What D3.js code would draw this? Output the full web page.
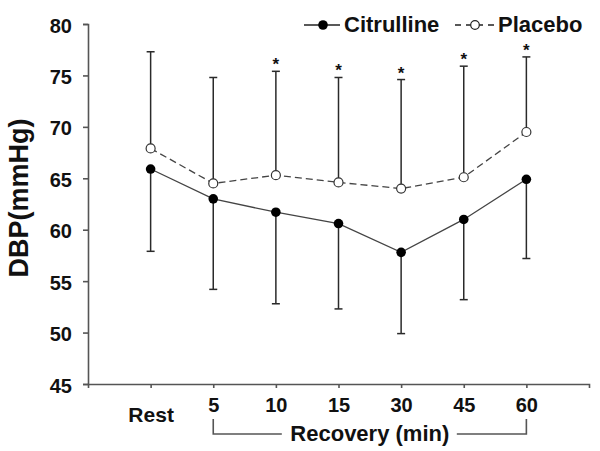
<!DOCTYPE html>
<html>
<head>
<meta charset="utf-8">
<script src="https://cdn.jsdelivr.net/npm/d3@7/dist/d3.min.js"></script>
<style>
  html, body { margin: 0; padding: 0; background: #fff; }
  svg { display: block; }
  text { font-family: "Liberation Sans", Arial, sans-serif; font-weight: bold; fill: #111; }
</style>
</head>
<body>
<svg id="chart" width="600" height="451"></svg>
<script>
const categories = ["Rest", "5", "10", "15", "30", "45", "60"];
const citrulline = [65.9, 63.0, 61.7, 60.6, 57.8, 61.0, 64.9];
const citrullineSD = [8.0, 8.8, 8.9, 8.3, 7.9, 7.8, 7.7];
const placebo = [67.9, 64.5, 65.3, 64.6, 64.0, 65.1, 69.5];
const placeboSD = [9.4, 10.3, 10.1, 10.2, 10.6, 10.8, 7.3];
const significant = [false, false, true, true, true, true, true];
const yTicks = [45, 50, 55, 60, 65, 70, 75, 80];
const seriesNames = ["Citrulline", "Placebo"];
const yLabel = "DBP(mmHg)";
const recoveryLabel = "Recovery (min)";

const svg = d3.select("#chart");
const axisColor = "#555";
const lineColor = "#2a2a2a";

const x = d3.scalePoint().domain(categories).range([88, 589]).padding(1);
const y = d3.scaleLinear().domain([45, 80]).range([384, 24]);

// Y axis
const yAxis = svg.append("g").attr("transform", "translate(88,0)")
  .call(d3.axisLeft(y).tickValues(yTicks).tickSize(5).tickPadding(11));
yAxis.selectAll("path, line").attr("stroke", axisColor).attr("stroke-width", 1.6);
yAxis.selectAll("text").attr("font-size", 20).attr("font-family", "Liberation Sans, Arial, sans-serif")
  .attr("font-weight", "bold").attr("fill", "#111").attr("dy", "0.4em");

// X axis
const xAxis = svg.append("g").attr("transform", "translate(0,384)")
  .call(d3.axisBottom(x).tickSize(4).tickSizeOuter(4).tickPadding(10));
xAxis.selectAll("path, line").attr("stroke", axisColor).attr("stroke-width", 1.6);
xAxis.selectAll("text").attr("font-family", "Liberation Sans, Arial, sans-serif")
  .attr("font-weight", "bold").attr("fill", "#111")
  .attr("dy", d => d === "Rest" ? "1.15em" : "0.71em")
  .attr("font-size", d => d === "Rest" ? 21 : 20);

// Y label
svg.append("text")
  .attr("transform", `translate(28,${(y(80) + y(45)) / 2 - 6}) rotate(-90)`)
  .attr("text-anchor", "middle")
  .attr("font-size", 27)
  .text(yLabel);

// Recovery bracket
const bx0 = x("5"), bx1 = x("60");
const bY = 434;
const labelCx = (bx0 + bx1) / 2;
svg.append("path")
  .attr("d", `M${bx0},419 V${bY} H${labelCx - 88} M${labelCx + 87},${bY} H${bx1} V419`)
  .attr("fill", "none").attr("stroke", axisColor).attr("stroke-width", 1.6);
svg.append("text")
  .attr("x", labelCx).attr("y", 441)
  .attr("text-anchor", "middle").attr("font-size", 22)
  .text(recoveryLabel);

const capW = 4;
// Placebo upper error bars
categories.forEach((c, i) => {
  const cx = x(c);
  const top = y(placebo[i] + placeboSD[i]);
  svg.append("line").attr("x1", cx).attr("x2", cx).attr("y1", y(placebo[i])).attr("y2", top)
    .attr("stroke", lineColor).attr("stroke-width", 1.5);
  svg.append("line").attr("x1", cx - capW).attr("x2", cx + capW).attr("y1", top).attr("y2", top)
    .attr("stroke", lineColor).attr("stroke-width", 1.5);
  if (significant[i]) {
    svg.append("text").attr("x", cx).attr("y", top - 1)
      .attr("text-anchor", "middle").attr("font-size", 17).attr("fill", "#333").text("*");
  }
});
// Citrulline lower error bars
categories.forEach((c, i) => {
  const cx = x(c);
  const bot = y(citrulline[i] - citrullineSD[i]);
  svg.append("line").attr("x1", cx).attr("x2", cx).attr("y1", y(citrulline[i])).attr("y2", bot)
    .attr("stroke", lineColor).attr("stroke-width", 1.5);
  svg.append("line").attr("x1", cx - capW).attr("x2", cx + capW).attr("y1", bot).attr("y2", bot)
    .attr("stroke", lineColor).attr("stroke-width", 1.5);
});

const line = d3.line().x((d, i) => x(categories[i])).y(d => y(d));
svg.append("path").datum(placebo).attr("d", line)
  .attr("fill", "none").attr("stroke", "#444").attr("stroke-width", 1.3).attr("stroke-dasharray", "7,4");
svg.append("path").datum(citrulline).attr("d", line)
  .attr("fill", "none").attr("stroke", "#444").attr("stroke-width", 1.3);

svg.selectAll(".pl").data(placebo).enter().append("circle")
  .attr("cx", (d, i) => x(categories[i])).attr("cy", d => y(d)).attr("r", 4.5)
  .attr("fill", "#fff").attr("stroke", "#333").attr("stroke-width", 1.2);
svg.selectAll(".ci").data(citrulline).enter().append("circle")
  .attr("cx", (d, i) => x(categories[i])).attr("cy", d => y(d)).attr("r", 4.8)
  .attr("fill", "#000");

// Legend
const lg = svg.append("g");
lg.append("line").attr("x1", 304).attr("x2", 340).attr("y1", 25).attr("y2", 25)
  .attr("stroke", "#222").attr("stroke-width", 1.6);
lg.append("circle").attr("cx", 323).attr("cy", 25).attr("r", 4.8).attr("fill", "#000");
lg.append("text").attr("x", 344).attr("y", 32).attr("font-size", 22).text(seriesNames[0]);
lg.append("line").attr("x1", 455).attr("x2", 495).attr("y1", 25).attr("y2", 25)
  .attr("stroke", "#222").attr("stroke-width", 1.4).attr("stroke-dasharray", "6,5");
lg.append("circle").attr("cx", 475).attr("cy", 25).attr("r", 4.3)
  .attr("fill", "#fff").attr("stroke", "#222").attr("stroke-width", 1.2);
lg.append("text").attr("x", 498).attr("y", 32).attr("font-size", 22).text(seriesNames[1]);
</script>
</body>
</html>
